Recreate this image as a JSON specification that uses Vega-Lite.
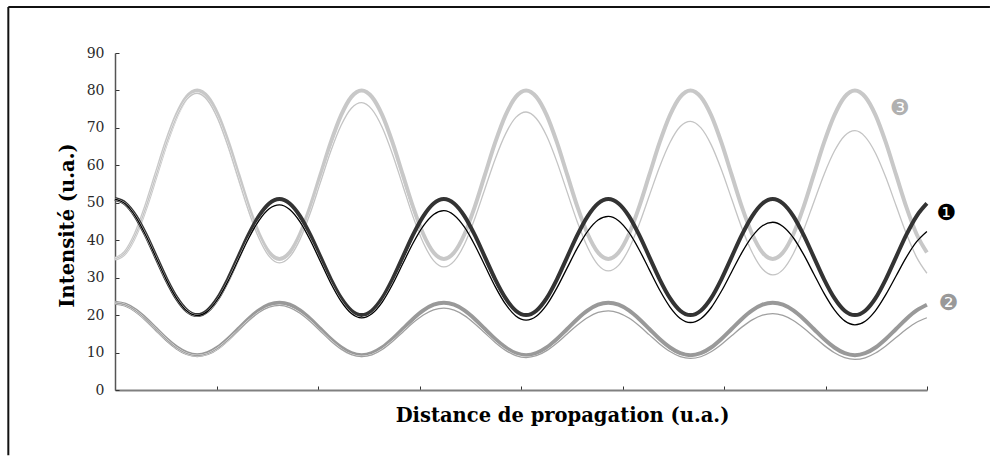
{
"$schema": "https://vega.github.io/schema/vega-lite/v6.json",
"width": 812, "height": 337,
"autosize": "none",
"padding": {"left": 115, "top": 53, "right": 65, "bottom": 67},
"background": "white",
"config": {"view": {"stroke": null}},
"datasets": {
"curves": [
{"x":0,"t1":51.0,"f1":51.0,"t2":23.3,"f2":23.3,"t3":35.0,"f3":35.0},
{"x":0.101,"t1":49.82,"f1":49.73,"t2":22.77,"f2":22.72,"t3":36.71,"f3":36.66},
{"x":0.203,"t1":46.46,"f1":46.31,"t2":21.25,"f2":21.17,"t3":41.59,"f3":41.50},
{"x":0.304,"t1":41.43,"f1":41.26,"t2":18.98,"f2":18.87,"t3":48.89,"f3":48.76},
{"x":0.405,"t1":35.5,"f1":35.33,"t2":16.3,"f2":16.18,"t3":57.5,"f3":57.30},
{"x":0.506,"t1":29.57,"f1":29.42,"t2":13.62,"f2":13.50,"t3":66.11,"f3":65.81},
{"x":0.608,"t1":24.54,"f1":24.43,"t2":11.35,"f2":11.23,"t3":73.41,"f3":72.98},
{"x":0.709,"t1":21.18,"f1":21.08,"t2":9.83,"f2":9.72,"t3":78.29,"f3":77.70},
{"x":0.81,"t1":20.0,"f1":19.89,"t2":9.3,"f2":9.18,"t3":80.0,"f3":79.25},
{"x":0.911,"t1":21.18,"f1":21.00,"t2":9.83,"f2":9.68,"t3":78.29,"f3":77.39},
{"x":1.013,"t1":24.54,"f1":24.24,"t2":11.35,"f2":11.15,"t3":73.41,"f3":72.41},
{"x":1.114,"t1":29.57,"f1":29.08,"t2":13.62,"f2":13.35,"t3":66.11,"f3":65.04},
{"x":1.215,"t1":35.5,"f1":34.79,"t2":16.3,"f2":15.94,"t3":57.5,"f3":56.41},
{"x":1.316,"t1":41.43,"f1":40.47,"t2":18.98,"f2":18.51,"t3":48.89,"f3":47.82},
{"x":1.418,"t1":46.46,"f1":45.25,"t2":21.25,"f2":20.68,"t3":41.59,"f3":40.54},
{"x":1.519,"t1":49.82,"f1":48.41,"t2":22.77,"f2":22.11,"t3":36.71,"f3":35.68},
{"x":1.62,"t1":51.0,"f1":49.45,"t2":23.3,"f2":22.58,"t3":35.0,"f3":33.93},
{"x":1.721,"t1":49.82,"f1":48.22,"t2":22.77,"f2":22.02,"t3":36.71,"f3":35.54},
{"x":1.823,"t1":46.46,"f1":44.90,"t2":21.25,"f2":20.52,"t3":41.59,"f3":40.22},
{"x":1.924,"t1":41.43,"f1":39.99,"t2":18.98,"f2":18.30,"t3":48.89,"f3":47.25},
{"x":2.025,"t1":35.5,"f1":34.24,"t2":16.3,"f2":15.69,"t3":57.5,"f3":55.52},
{"x":2.126,"t1":29.57,"f1":28.52,"t2":13.62,"f2":13.10,"t3":66.11,"f3":63.75},
{"x":2.228,"t1":24.54,"f1":23.67,"t2":11.35,"f2":10.91,"t3":73.41,"f3":70.69},
{"x":2.329,"t1":21.18,"f1":20.43,"t2":9.83,"f2":9.45,"t3":78.29,"f3":75.25},
{"x":2.43,"t1":20.0,"f1":19.27,"t2":9.3,"f2":8.93,"t3":80.0,"f3":76.75},
{"x":2.531,"t1":21.18,"f1":20.35,"t2":9.83,"f2":9.41,"t3":78.29,"f3":74.95},
{"x":2.633,"t1":24.54,"f1":23.48,"t2":11.35,"f2":10.83,"t3":73.41,"f3":70.11},
{"x":2.734,"t1":29.57,"f1":28.18,"t2":13.62,"f2":12.96,"t3":66.11,"f3":62.98},
{"x":2.835,"t1":35.5,"f1":33.70,"t2":16.3,"f2":15.45,"t3":57.5,"f3":54.63},
{"x":2.936,"t1":41.43,"f1":39.20,"t2":18.98,"f2":17.94,"t3":48.89,"f3":46.30},
{"x":3.038,"t1":46.46,"f1":43.84,"t2":21.25,"f2":20.03,"t3":41.59,"f3":39.27},
{"x":3.139,"t1":49.82,"f1":46.89,"t2":22.77,"f2":21.41,"t3":36.71,"f3":34.55},
{"x":3.24,"t1":51.0,"f1":47.90,"t2":23.3,"f2":21.86,"t3":35.0,"f3":32.86},
{"x":3.341,"t1":49.82,"f1":46.70,"t2":22.77,"f2":21.32,"t3":36.71,"f3":34.41},
{"x":3.443,"t1":46.46,"f1":43.49,"t2":21.25,"f2":19.87,"t3":41.59,"f3":38.94},
{"x":3.544,"t1":41.43,"f1":38.73,"t2":18.98,"f2":17.72,"t3":48.89,"f3":45.74},
{"x":3.645,"t1":35.5,"f1":33.16,"t2":16.3,"f2":15.21,"t3":57.5,"f3":53.73},
{"x":3.746,"t1":29.57,"f1":27.61,"t2":13.62,"f2":12.71,"t3":66.11,"f3":61.70},
{"x":3.848,"t1":24.54,"f1":22.91,"t2":11.35,"f2":10.59,"t3":73.41,"f3":68.40},
{"x":3.949,"t1":21.18,"f1":19.78,"t2":9.83,"f2":9.18,"t3":78.29,"f3":72.81},
{"x":4.05,"t1":20.0,"f1":18.65,"t2":9.3,"f2":8.68,"t3":80.0,"f3":74.25},
{"x":4.151,"t1":21.18,"f1":19.69,"t2":9.83,"f2":9.15,"t3":78.29,"f3":72.50},
{"x":4.253,"t1":24.54,"f1":22.73,"t2":11.35,"f2":10.51,"t3":73.41,"f3":67.82},
{"x":4.354,"t1":29.57,"f1":27.27,"t2":13.62,"f2":12.56,"t3":66.11,"f3":60.92},
{"x":4.455,"t1":35.5,"f1":32.62,"t2":16.3,"f2":14.97,"t3":57.5,"f3":52.84},
{"x":4.556,"t1":41.43,"f1":37.94,"t2":18.98,"f2":17.36,"t3":48.89,"f3":44.79},
{"x":4.658,"t1":46.46,"f1":42.43,"t2":21.25,"f2":19.38,"t3":41.59,"f3":37.99},
{"x":4.759,"t1":49.82,"f1":45.38,"t2":22.77,"f2":20.70,"t3":36.71,"f3":33.43},
{"x":4.86,"t1":51.0,"f1":46.35,"t2":23.3,"f2":21.14,"t3":35.0,"f3":31.79},
{"x":4.961,"t1":49.82,"f1":45.19,"t2":22.77,"f2":20.62,"t3":36.71,"f3":33.29},
{"x":5.063,"t1":46.46,"f1":42.07,"t2":21.25,"f2":19.21,"t3":41.59,"f3":37.67},
{"x":5.164,"t1":41.43,"f1":37.47,"t2":18.98,"f2":17.15,"t3":48.89,"f3":44.23},
{"x":5.265,"t1":35.5,"f1":32.07,"t2":16.3,"f2":14.72,"t3":57.5,"f3":51.95},
{"x":5.366,"t1":29.57,"f1":26.70,"t2":13.62,"f2":12.31,"t3":66.11,"f3":59.64},
{"x":5.468,"t1":24.54,"f1":22.16,"t2":11.35,"f2":10.27,"t3":73.41,"f3":66.11},
{"x":5.569,"t1":21.18,"f1":19.12,"t2":9.83,"f2":8.91,"t3":78.29,"f3":70.36},
{"x":5.67,"t1":20.0,"f1":18.03,"t2":9.3,"f2":8.43,"t3":80.0,"f3":71.75},
{"x":5.771,"t1":21.18,"f1":19.04,"t2":9.83,"f2":8.88,"t3":78.29,"f3":70.06},
{"x":5.873,"t1":24.54,"f1":21.97,"t2":11.35,"f2":10.20,"t3":73.41,"f3":65.53},
{"x":5.974,"t1":29.57,"f1":26.36,"t2":13.62,"f2":12.16,"t3":66.11,"f3":58.87},
{"x":6.075,"t1":35.5,"f1":31.53,"t2":16.3,"f2":14.48,"t3":57.5,"f3":51.06},
{"x":6.176,"t1":41.43,"f1":36.68,"t2":18.98,"f2":16.79,"t3":48.89,"f3":43.28},
{"x":6.278,"t1":46.46,"f1":41.01,"t2":21.25,"f2":18.73,"t3":41.59,"f3":36.71},
{"x":6.379,"t1":49.82,"f1":43.86,"t2":22.77,"f2":20.00,"t3":36.71,"f3":32.30},
{"x":6.48,"t1":51.0,"f1":44.80,"t2":23.3,"f2":20.42,"t3":35.0,"f3":30.72},
{"x":6.581,"t1":49.82,"f1":43.67,"t2":22.77,"f2":19.92,"t3":36.71,"f3":32.16},
{"x":6.683,"t1":46.46,"f1":40.66,"t2":21.25,"f2":18.56,"t3":41.59,"f3":36.39},
{"x":6.784,"t1":41.43,"f1":36.21,"t2":18.98,"f2":16.57,"t3":48.89,"f3":42.71},
{"x":6.885,"t1":35.5,"f1":30.99,"t2":16.3,"f2":14.24,"t3":57.5,"f3":50.16},
{"x":6.986,"t1":29.57,"f1":25.80,"t2":13.62,"f2":11.92,"t3":66.11,"f3":57.58},
{"x":7.088,"t1":24.54,"f1":21.40,"t2":11.35,"f2":9.96,"t3":73.41,"f3":63.82},
{"x":7.189,"t1":21.18,"f1":18.46,"t2":9.83,"f2":8.64,"t3":78.29,"f3":67.92},
{"x":7.29,"t1":20.0,"f1":17.41,"t2":9.3,"f2":8.18,"t3":80.0,"f3":69.25},
{"x":7.391,"t1":21.18,"f1":18.38,"t2":9.83,"f2":8.61,"t3":78.29,"f3":67.61},
{"x":7.493,"t1":24.54,"f1":21.21,"t2":11.35,"f2":9.88,"t3":73.41,"f3":63.24},
{"x":7.594,"t1":29.57,"f1":25.46,"t2":13.62,"f2":11.77,"t3":66.11,"f3":56.81},
{"x":7.695,"t1":35.5,"f1":30.45,"t2":16.3,"f2":14.00,"t3":57.5,"f3":49.27},
{"x":7.796,"t1":41.43,"f1":35.42,"t2":18.98,"f2":16.21,"t3":48.89,"f3":41.77},
{"x":7.898,"t1":46.46,"f1":39.60,"t2":21.25,"f2":18.08,"t3":41.59,"f3":35.43},
{"x":7.999,"t1":49.82,"f1":42.35,"t2":22.77,"f2":19.30,"t3":36.71,"f3":31.18}
],
"labels": [
{"x":8.19,"v":47.2,"t":"❶","g":"1"},
{"x":8.21,"v":23.2,"t":"❷","g":"2"},
{"x":7.73,"v":75.3,"t":"❸","g":"3"}
]
},
"layer": [
{
"data": {"name": "curves"},
"transform": [{"fold": ["t1","f1","t2","f2","t3","f3"], "as": ["key","v"]}],
"encoding": {
"x": {"field": "x", "type": "quantitative", "scale": {"domain": [0, 8], "nice": false, "zero": false},
"axis": {"values": [1,2,3,4,5,6,7,8], "labels": false, "tickSize": -4, "tickColor": "#333", "tickWidth": 1, "domainColor": "#808080", "domainWidth": 2, "grid": false,
"title": "Distance de propagation (u.a.)", "titleFont": "DejaVu Serif", "titleFontSize": 19.5, "titleFontWeight": "bold", "titleColor": "#000", "titleX": 447, "titleY": 31, "titleBaseline": "alphabetic", "titleAlign": "center"}},
"y": {"field": "v", "type": "quantitative", "scale": {"domain": [0, 90], "nice": false},
"axis": {"values": [0,10,20,30,40,50,60,70,80,90], "tickSize": -4, "tickColor": "#333", "tickWidth": 1, "labelPadding": 15, "labelFont": "DejaVu Serif", "labelFontSize": 14, "labelColor": "#2a2a2a", "domainColor": "#555", "domainWidth": 1.5, "grid": false,
"title": "Intensité (u.a.)", "titleFont": "DejaVu Serif", "titleFontSize": 19.5, "titleFontWeight": "bold", "titleColor": "#000", "titleX": -48, "titleY": 172, "titleAngle": -90, "titleBaseline": "middle", "titleAlign": "center"}}
},
"layer": [
{"transform": [{"filter": "datum.key === 't3'"}], "mark": {"type": "line", "interpolate": "monotone", "color": "#c8c8c8", "strokeWidth": 4}},
{"transform": [{"filter": "datum.key === 'f3'"}], "mark": {"type": "line", "interpolate": "monotone", "color": "white", "strokeWidth": 1.8}},
{"transform": [{"filter": "datum.key === 'f3'"}], "mark": {"type": "line", "interpolate": "monotone", "color": "#c4c4c4", "strokeWidth": 1.3}},
{"transform": [{"filter": "datum.key === 't2'"}], "mark": {"type": "line", "interpolate": "monotone", "color": "#999999", "strokeWidth": 4}},
{"transform": [{"filter": "datum.key === 'f2'"}], "mark": {"type": "line", "interpolate": "monotone", "color": "white", "strokeWidth": 1.8}},
{"transform": [{"filter": "datum.key === 'f2'"}], "mark": {"type": "line", "interpolate": "monotone", "color": "#a0a0a0", "strokeWidth": 1.3}},
{"transform": [{"filter": "datum.key === 't1'"}], "mark": {"type": "line", "interpolate": "monotone", "color": "#333333", "strokeWidth": 4}},
{"transform": [{"filter": "datum.key === 'f1'"}], "mark": {"type": "line", "interpolate": "monotone", "color": "white", "strokeWidth": 1.8}},
{"transform": [{"filter": "datum.key === 'f1'"}], "mark": {"type": "line", "interpolate": "monotone", "color": "#000000", "strokeWidth": 1.3}},
{
"data": {"name": "labels"},
"transform": [{"filter": "true"}],
"mark": {"type": "text", "font": "DejaVu Sans", "fontSize": 22, "align": "center", "baseline": "middle"},
"encoding": {
"text": {"field": "t"},
"color": {"field": "g", "type": "nominal", "scale": {"domain": ["1","2","3"], "range": ["#000000", "#999999", "#b0b0b0"]}, "legend": null}
}
}
]
},
{
"data": {"values": [{"name": "frame"}]},
"encoding": {
"x": {"datum": -1.051, "type": "quantitative", "scale": {"domain": [0, 8], "nice": false, "zero": false},
"axis": {"values": [1,2,3,4,5,6,7,8], "labels": false, "tickSize": -4, "tickColor": "#333", "tickWidth": 1, "domainColor": "#808080", "domainWidth": 2, "grid": false,
"title": "Distance de propagation (u.a.)", "titleFont": "DejaVu Serif", "titleFontSize": 19.5, "titleFontWeight": "bold", "titleColor": "#000", "titleX": 447, "titleY": 31, "titleBaseline": "alphabetic", "titleAlign": "center"}},
"y": {"datum": 102.3, "type": "quantitative", "scale": {"domain": [0, 90], "nice": false},
"axis": {"values": [0,10,20,30,40,50,60,70,80,90], "tickSize": -4, "tickColor": "#333", "tickWidth": 1, "labelPadding": 15, "labelFont": "DejaVu Serif", "labelFontSize": 14, "labelColor": "#2a2a2a", "domainColor": "#555", "domainWidth": 1.5, "grid": false,
"title": "Intensité (u.a.)", "titleFont": "DejaVu Serif", "titleFontSize": 19.5, "titleFontWeight": "bold", "titleColor": "#000", "titleX": -48, "titleY": 172, "titleAngle": -90, "titleBaseline": "middle", "titleAlign": "center"}}
},
"layer": [
{"mark": {"type": "rule", "color": "#111111", "strokeWidth": 2}, "encoding": {"y2": {"datum": -17.4}}},
{"mark": {"type": "rule", "color": "#111111", "strokeWidth": 2}, "encoding": {"x2": {"datum": 8.62}}}
]
}
]
}
